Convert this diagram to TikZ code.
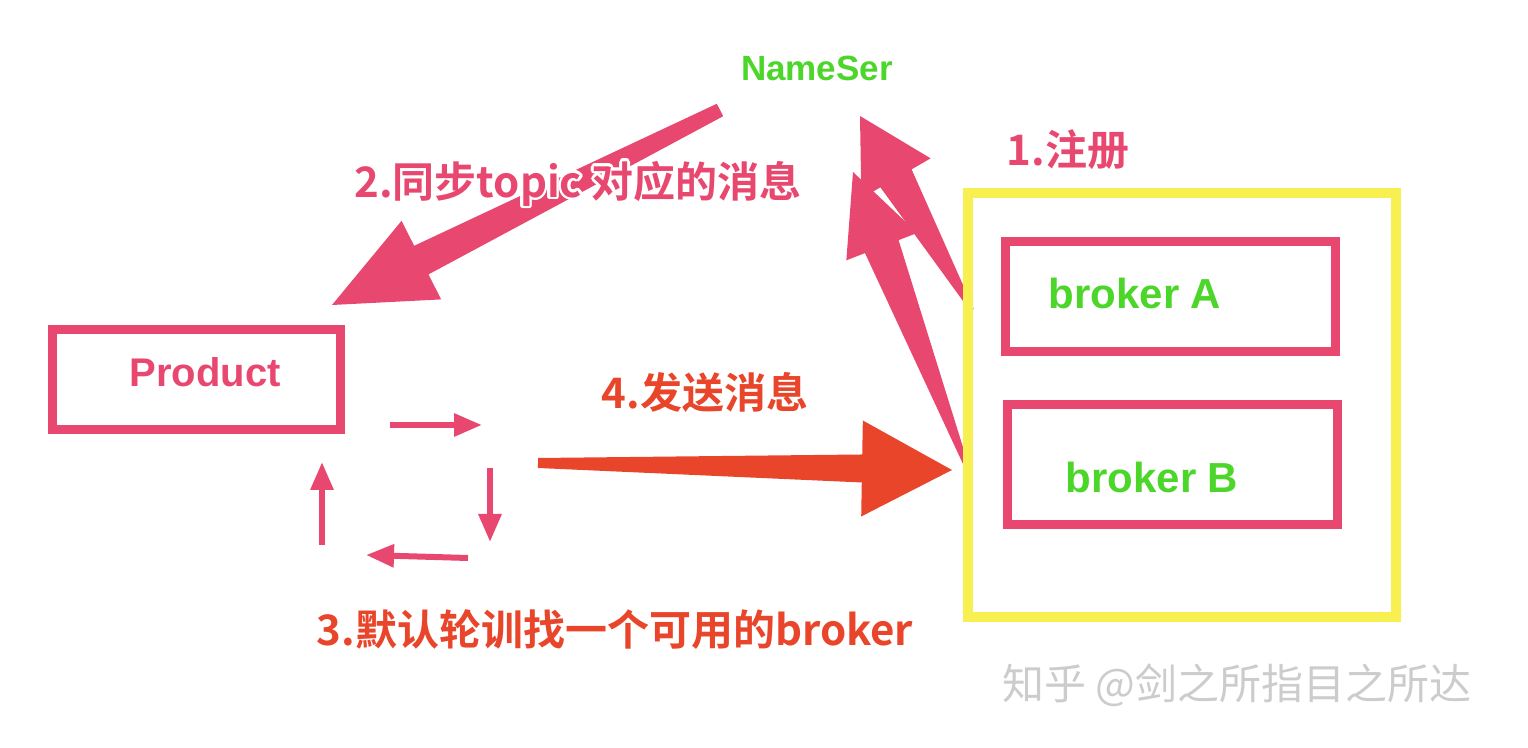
\documentclass[tikz,border=0pt]{standalone}
\usepackage{fontspec}
\setmainfont{Liberation Sans}
\newfontfamily\cjk{Noto Sans CJK SC}[BoldFont={Noto Sans CJK SC Bold}]
\usepackage{contour}
\contourlength{1.3pt}
\usetikzlibrary{arrows.meta,calc}
\definecolor{pk}{HTML}{E8486F}
\definecolor{orr}{HTML}{E8452A}
\definecolor{gr}{HTML}{4CD62A}
\definecolor{yl}{HTML}{F8F050}
\newcommand\tarr[7]{%
  \coordinate (hb) at ($(#2)!#6!(#1)$);
  \fill[#3] ($(#1)!#4!90:(#2)$) -- ($(hb)!#5!-90:(#1)$) -- ($(hb)!#7!-90:(#1)$) -- (#2)
    -- ($(hb)!#7!90:(#1)$) -- ($(hb)!#5!90:(#1)$) -- ($(#1)!#4!-90:(#2)$) -- cycle;}
\begin{document}
\begin{tikzpicture}[x=0.5pt,y=-0.5pt,
  lbl/.style={font=\cjk\bfseries\fontsize{21}{25}\selectfont},
  grn/.style={font=\bfseries\fontsize{21}{25}\selectfont,text=gr},
  pbox/.style={draw=pk,line width=4.5pt,inner sep=0pt},
  sm/.style={draw=pk,line width=3pt,-{Triangle[length=14pt,width=11pt]}}]
\useasboundingbox (0,0) rectangle (1528,748);
\node[pbox,minimum width=165pt,minimum height=55pt] (ba) at (1170,297) {};
\node[pbox,minimum width=165pt,minimum height=60pt] (bb) at (1172,465) {};
\node[pbox,minimum width=144pt,minimum height=50pt] (pr) at (196,380) {};
\coordinate (a1) at (720,110); \coordinate (a2) at (332,305);
\tarr{a1}{a2}{pk}{3.5pt}{8pt}{50pt}{22pt}
\coordinate (b1) at (972,310); \coordinate (b2) at (860,116);
\coordinate (c1) at (968,470); \coordinate (c2) at (853,172);
\tarr{c1}{c2}{pk}{1pt}{9pt}{40pt}{19pt}
\tarr{b1}{b2}{pk}{1pt}{9pt}{36pt}{20pt}
\coordinate (d1) at (538,463); \coordinate (d2) at (952,470);
\tarr{d1}{d2}{orr}{2.5pt}{7pt}{45pt}{24pt}
\node[draw=yl,line width=5pt,minimum width=214pt,minimum height=212pt] (grp) at (1182,405) {};
\coordinate (s1) at (390,425); \coordinate (s2) at (482,425);
\coordinate (s3) at (490,468); \coordinate (s4) at (490,542);
\coordinate (s5) at (468,558); \coordinate (s6) at (366,555);
\coordinate (s7) at (322,545); \coordinate (s8) at (322,462);
\draw[sm] (s1) -- (s2); \draw[sm] (s3) -- (s4);
\draw[sm] (s5) -- (s6); \draw[sm] (s7) -- (s8);
\node[grn,font=\bfseries\fontsize{17.5}{20}\selectfont] (ns) at (817,68) {NameSer};
\node[grn] at (1135,293) {broker A};
\node[grn] at (1152,477) {broker B};
\node[font=\bfseries\fontsize{20}{24}\selectfont,text=pk] (pt) at (205,372) {Product};
\node[lbl,text=pk] (l2) at (578,185) {\contour{white}{2.同步topic 对应的消息}};
\node[lbl,text=pk] (l1) at (1068,150) {1.注册};
\node[lbl,text=orr] (l4) at (705,392) {4.发送消息};
\node[lbl,text=orr] (l3) at (615,630) {3.默认轮训找一个可用的broker};
\node[font=\cjk\fontsize{21}{25}\selectfont,text=black!20] (wm) at (1237,685) {知乎 @剑之所指目之所达};
\end{tikzpicture}
\end{document}
